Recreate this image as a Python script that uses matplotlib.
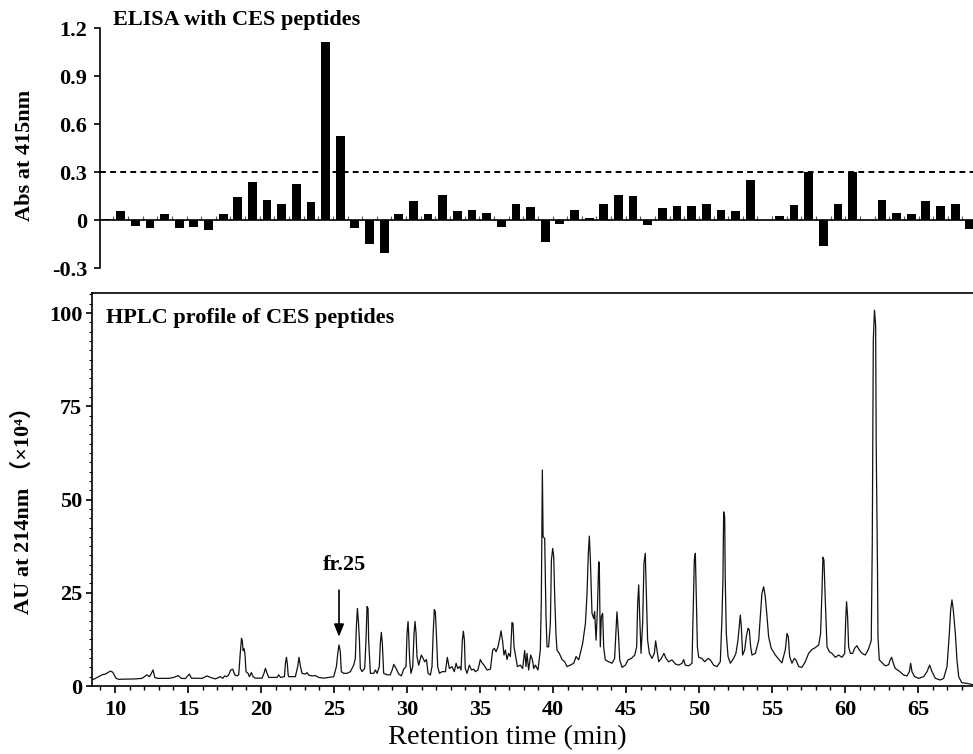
import matplotlib
matplotlib.use("Agg")
import matplotlib.pyplot as plt
from matplotlib.ticker import FixedLocator, MultipleLocator

plt.rcParams['font.family'] = ['Liberation Serif', 'Noto Sans CJK SC', 'DejaVu Sans']
plt.rcParams['axes.unicode_minus'] = False

# ELISA of the collected fractions (one fraction per minute)
fractions = list(range(10, 70))
elisa_abs = [0.008, 0.055, -0.035, -0.05, 0.035, -0.05, -0.045, -0.06, 0.035, 0.142,
             0.24, 0.128, 0.097, 0.225, 0.113, 1.11, 0.528, -0.05, -0.148, -0.208,
             0.037, 0.12, 0.037, 0.157, 0.054, 0.06, 0.045, -0.045, 0.103, 0.08,
             -0.136, -0.023, 0.06, 0.015, 0.103, 0.157, 0.15, -0.03, 0.072, 0.088,
             0.088, 0.103, 0.06, 0.054, 0.247, 0.0, 0.027, 0.095, 0.297, -0.163,
             0.103, 0.30, 0.0, 0.126, 0.043, 0.035, 0.12, 0.087, 0.103, -0.056]
elisa_cutoff = 0.3
elisa_ticks = [-0.3, 0.0, 0.3, 0.6, 0.9, 1.2]
elisa_tick_labels = ['-0.3', '0', '0.3', '0.6', '0.9', '1.2']

# HPLC trace, vertices (min, AU x10^4)
hplc_time = [
    8.42, 8.54, 9.11, 9.34, 9.68, 9.84, 10.07, 10.25, 11.39, 11.85, 12.19, 12.35, 12.49, 12.60,
    12.72, 12.88, 13.68, 14.02, 14.32, 14.54, 14.82, 15.09, 15.23, 15.96, 16.30, 16.53, 16.87,
    17.22, 17.38, 17.51, 17.65, 17.79, 17.92, 18.06, 18.20, 18.36, 18.47, 18.58, 18.66, 18.72,
    18.77, 18.84, 18.90, 18.97, 19.11, 19.20, 19.34, 19.45, 19.61, 20.07, 20.20, 20.30, 20.41,
    20.53, 21.10, 21.21, 21.33, 21.60, 21.67, 21.74, 21.80, 21.86, 21.90, 22.35, 22.51, 22.60,
    22.70, 22.81, 23.04, 23.15, 23.27, 23.49, 23.72, 23.95, 24.29, 24.64, 24.98, 25.16, 25.27,
    25.34, 25.43, 25.50, 25.66, 25.89, 26.12, 26.35, 26.46, 26.53, 26.60, 26.67, 26.74, 26.80,
    26.92, 27.10, 27.19, 27.26, 27.33, 27.37, 27.49, 27.72, 27.83, 27.95, 28.10, 28.17, 28.24,
    28.31, 28.40, 28.63, 28.85, 29.00, 29.09, 29.25, 29.43, 29.61, 29.77, 29.93, 30.00, 30.07,
    30.11, 30.18, 30.27, 30.39, 30.48, 30.55, 30.62, 30.68, 30.80, 30.98, 31.10, 31.21, 31.33,
    31.44, 31.60, 31.71, 31.80, 31.87, 31.94, 32.01, 32.10, 32.22, 32.40, 32.63, 32.76, 32.90,
    33.08, 33.24, 33.36, 33.47, 33.61, 33.70, 33.79, 33.86, 33.93, 33.99, 34.11, 34.27, 34.41,
    34.57, 34.68, 34.86, 35.02, 35.14, 35.27, 35.48, 35.71, 35.87, 35.98, 36.10, 36.23, 36.35,
    36.44, 36.55, 36.64, 36.74, 36.85, 36.96, 37.08, 37.19, 37.26, 37.33, 37.44, 37.56, 37.76,
    37.92, 38.06, 38.15, 38.22, 38.33, 38.47, 38.59, 38.68, 38.79, 38.97, 39.13, 39.20, 39.27,
    39.32, 39.43, 39.52, 39.59, 39.70, 39.82, 39.89, 39.98, 40.05, 40.11, 40.20, 40.27, 40.43,
    40.62, 40.80, 40.96, 41.19, 41.42, 41.58, 41.76, 41.92, 42.03, 42.22, 42.33, 42.42, 42.49,
    42.56, 42.63, 42.67, 42.79, 42.85, 42.95, 43.04, 43.13, 43.17, 43.24, 43.31, 43.40, 43.47,
    43.58, 43.81, 44.04, 44.22, 44.32, 44.38, 44.48, 44.57, 44.73, 44.96, 45.14, 45.37, 45.60,
    45.73, 45.80, 45.87, 45.94, 46.03, 46.14, 46.23, 46.32, 46.39, 46.48, 46.60, 46.78, 46.94,
    47.03, 47.12, 47.24, 47.42, 47.60, 47.74, 47.92, 48.15, 48.38, 48.61, 48.84, 48.95, 49.06,
    49.29, 49.52, 49.59, 49.68, 49.75, 49.82, 49.89, 49.98, 50.20, 50.39, 50.62, 50.78, 51.00,
    51.23, 51.46, 51.57, 51.64, 51.69, 51.76, 51.80, 51.87, 51.99, 52.15, 52.37, 52.53, 52.67,
    52.76, 52.83, 52.90, 52.99, 53.13, 53.24, 53.36, 53.45, 53.54, 53.63, 53.86, 54.09, 54.20,
    54.31, 54.43, 54.54, 54.66, 54.77, 54.95, 55.23, 55.50, 55.68, 55.91, 56.03, 56.12, 56.21,
    56.37, 56.53, 56.64, 56.83, 57.05, 57.28, 57.51, 57.74, 57.97, 58.20, 58.33, 58.42, 58.49,
    58.56, 58.65, 58.77, 58.93, 59.11, 59.34, 59.57, 59.79, 59.98, 60.05, 60.11, 60.18, 60.25,
    60.37, 60.53, 60.66, 60.82, 60.98, 61.17, 61.39, 61.58, 61.74, 61.80, 61.87, 61.94, 62.02,
    62.10, 62.14, 62.23, 62.26, 62.35, 62.53, 62.76, 62.99, 63.10, 63.20, 63.31, 63.45, 63.68,
    64.02, 64.25, 64.41, 64.50, 64.59, 64.77, 65.05, 65.39, 65.62, 65.80, 65.96, 66.19, 66.53,
    66.76, 66.99, 67.15, 67.24, 67.33, 67.42, 67.56, 67.67, 67.79, 68.00, 68.36, 68.80]
hplc_au = [
    1.8, 1.8, 3.0, 3.2, 4.0, 3.7, 2.05, 1.8, 1.9, 2.05, 3.0, 2.5, 3.4, 4.3,
    2.3, 2.05, 2.05, 2.3, 2.8, 2.05, 2.0, 3.2, 2.1, 2.05, 2.7, 2.3, 1.9,
    2.5, 2.05, 2.7, 2.5, 3.0, 4.3, 4.5, 3.0, 2.7, 3.0, 9.0, 12.8, 12.0,
    9.5, 10.0, 8.5, 3.85, 3.4, 2.5, 3.6, 2.5, 2.1, 2.1, 3.4, 4.75, 3.4,
    2.3, 2.3, 3.0, 2.3, 2.5, 6.1, 7.7, 6.0, 2.9, 2.5, 2.5, 5.2, 7.7,
    5.2, 3.4, 3.2, 3.6, 2.9, 2.7, 2.8, 2.3, 2.1, 2.3, 2.5, 5.2, 9.2,
    11.0, 9.2, 3.85, 3.4, 3.4, 3.85, 5.6, 7.4, 15.9, 20.8, 17.3, 12.3, 4.75,
    3.85, 4.75, 12.3, 21.3, 20.8, 12.3, 3.4, 3.4, 4.3, 3.4, 5.2, 11.4, 14.4,
    11.4, 3.4, 3.0, 3.0, 4.5, 5.8, 4.7, 3.2, 2.7, 4.5, 5.2, 14.1, 17.3,
    14.1, 7.0, 3.4, 5.2, 14.1, 17.3, 14.1, 7.9, 5.6, 8.3, 7.4, 6.5, 7.1,
    3.4, 2.95, 5.2, 15.0, 20.5, 19.9, 14.1, 5.2, 3.4, 3.85, 3.85, 7.7, 4.7,
    5.2, 3.85, 6.1, 4.7, 5.2, 4.3, 12.3, 14.7, 12.3, 4.7, 3.4, 5.6, 4.3,
    4.5, 3.85, 4.3, 7.1, 6.2, 5.6, 4.3, 4.5, 9.65, 10.1, 9.2, 10.5, 12.8,
    14.8, 11.9, 8.3, 9.65, 7.1, 8.75, 7.9, 17.0, 16.8, 10.5, 7.9, 5.2, 5.6,
    4.7, 9.5, 5.2, 8.75, 4.3, 8.3, 7.0, 4.7, 5.6, 4.3, 9.65, 23.0, 57.9,
    40.0, 39.6, 18.6, 10.5, 10.5, 16.8, 33.8, 36.9, 34.6, 24.8, 14.1, 9.65, 8.75,
    7.1, 6.5, 5.2, 5.6, 6.1, 7.9, 7.0, 9.65, 11.4, 16.8, 24.8, 35.6, 40.2,
    33.8, 24.8, 19.5, 18.1, 19.9, 12.3, 20.4, 33.3, 33.0, 10.5, 18.6, 19.5, 10.5,
    7.0, 6.5, 6.1, 7.4, 15.0, 19.9, 14.1, 7.0, 5.0, 5.6, 7.0, 7.4, 8.3,
    10.5, 22.2, 27.1, 18.6, 8.75, 16.8, 32.9, 35.6, 25.7, 12.3, 8.75, 7.4, 8.75,
    12.1, 9.65, 6.5, 7.4, 8.75, 7.4, 6.5, 7.0, 5.9, 5.6, 6.1, 7.1, 5.6,
    5.4, 6.1, 17.7, 33.8, 35.6, 23.1, 10.5, 7.7, 7.4, 6.5, 7.4, 7.0, 5.6,
    5.2, 6.5, 17.7, 28.4, 46.7, 45.4, 28.4, 14.1, 7.9, 6.1, 7.4, 8.75, 12.3,
    15.9, 19.0, 15.9, 8.3, 9.65, 13.2, 15.5, 15.0, 10.5, 8.3, 8.75, 12.3, 18.6,
    24.8, 26.6, 24.0, 18.6, 13.2, 10.1, 8.3, 7.0, 6.2, 9.65, 14.1, 13.2, 7.9,
    6.1, 7.4, 7.0, 5.2, 5.0, 6.5, 8.75, 9.8, 10.3, 11.0, 14.1, 24.8, 34.5,
    33.8, 23.1, 10.5, 9.2, 8.75, 7.7, 8.3, 7.7, 8.75, 17.7, 22.6, 18.6, 10.5,
    8.75, 8.75, 10.1, 10.8, 9.65, 8.75, 8.3, 9.65, 11.4, 12.3, 38.3, 92.6, 100.8,
    96.8, 64.7, 30.3, 13.2, 7.0, 6.3, 5.4, 5.7, 7.0, 7.7, 6.1, 4.7, 4.1,
    2.95, 2.7, 3.85, 6.1, 3.85, 2.5, 2.05, 2.5, 3.85, 5.6, 3.85, 2.05, 1.6,
    2.05, 5.2, 14.1, 20.4, 23.1, 20.4, 14.1, 7.0, 2.5, 0.9, 0.7, 0.3]

W, H = 973, 754
fig = plt.figure(figsize=(W / 100, H / 100), dpi=100)

# ---- top panel: ELISA bars ----
ax1 = fig.add_axes([100 / W, (H - 268) / H, 873 / W, 240 / H])
ax1.bar(fractions, elisa_abs, width=0.6, color='black', zorder=3)
ax1.axhline(elisa_cutoff, color='black', lw=1.4, ls=(0, (3, 2.2)), zorder=2)
ax1.set_xlim(9.59, 69.22)
ax1.set_ylim(-0.3, 1.2)
for s in ['top', 'right']:
    ax1.spines[s].set_visible(False)
ax1.spines['bottom'].set_position(('data', 0))
ax1.spines['bottom'].set_linewidth(1.2)
ax1.spines['left'].set_linewidth(1.2)
ax1.xaxis.set_major_locator(FixedLocator([f + 0.5 for f in range(9, 70)]))
ax1.tick_params(axis='x', direction='in', length=3, width=0.8, color='#555555',
                labelbottom=False)
ax1.set_yticks(elisa_ticks)
ax1.set_yticklabels(elisa_tick_labels)
ax1.tick_params(axis='y', direction='out', length=4, width=1.2, pad=5,
                labelsize=16)
for lab in ax1.get_yticklabels():
    lab.set_fontweight('bold')

fig.text(113 / W, 1 - 25 / H, 'ELISA with CES peptides', fontsize=16,
         fontweight='bold', ha='left', va='baseline')
fig.text(25 / W, 1 - 155 / H, 'Abs at 415nm', fontsize=16, fontweight='bold',
         rotation=90, ha='center', va='center')

# ---- bottom panel: HPLC profile ----
ax2 = fig.add_axes([92 / W, 68 / H, 881 / W, 393 / H])
ax2.plot(hplc_time, hplc_au, color='#111111', lw=0.9)
ax2.set_xlim(8.42, 68.77)
ax2.set_ylim(0, 105.4)
ax2.spines['right'].set_visible(False)
for s in ['top', 'left', 'bottom']:
    ax2.spines[s].set_linewidth(1.2)
ax2.xaxis.set_major_locator(MultipleLocator(5))
ax2.xaxis.set_minor_locator(MultipleLocator(1))
ax2.yaxis.set_major_locator(MultipleLocator(25))
ax2.yaxis.set_minor_locator(MultipleLocator(2.5))
ax2.tick_params(axis='x', which='major', direction='out', length=5, width=1.2,
                pad=5, labelsize=16)
ax2.tick_params(axis='x', which='minor', direction='out', length=3, width=1)
ax2.tick_params(axis='y', which='major', direction='out', length=4, width=1.2,
                pad=3, labelsize=16)
ax2.tick_params(axis='y', which='minor', direction='out', length=2, width=0.8)
for lab in ax2.get_xticklabels() + ax2.get_yticklabels():
    lab.set_fontweight('bold')

ax2.text(9.38, 98.7, 'HPLC profile of CES peptides', fontsize=16,
         fontweight='bold', ha='left', va='center')
ax2.text(25.72, 32.4, 'fr.25', fontsize=16, fontweight='bold',
         ha='center', va='center')
ax2.annotate('', xy=(25.34, 13.2), xytext=(25.34, 25.7),
             arrowprops=dict(arrowstyle='-|>,head_length=0.75,head_width=0.3',
                             color='black', lw=1.2, shrinkA=0, shrinkB=0,
                             mutation_scale=10))

fig.text(507 / W, 1 - 738 / H, 'Retention time (min)', fontsize=20.5,
         ha='center', va='center')
fig.text(23 / W, 1 - 505 / H, 'AU at 214nm （×10⁴）', fontsize=16,
         fontweight='bold', rotation=90, ha='center', va='center')

fig.savefig('out.png', dpi=100)
